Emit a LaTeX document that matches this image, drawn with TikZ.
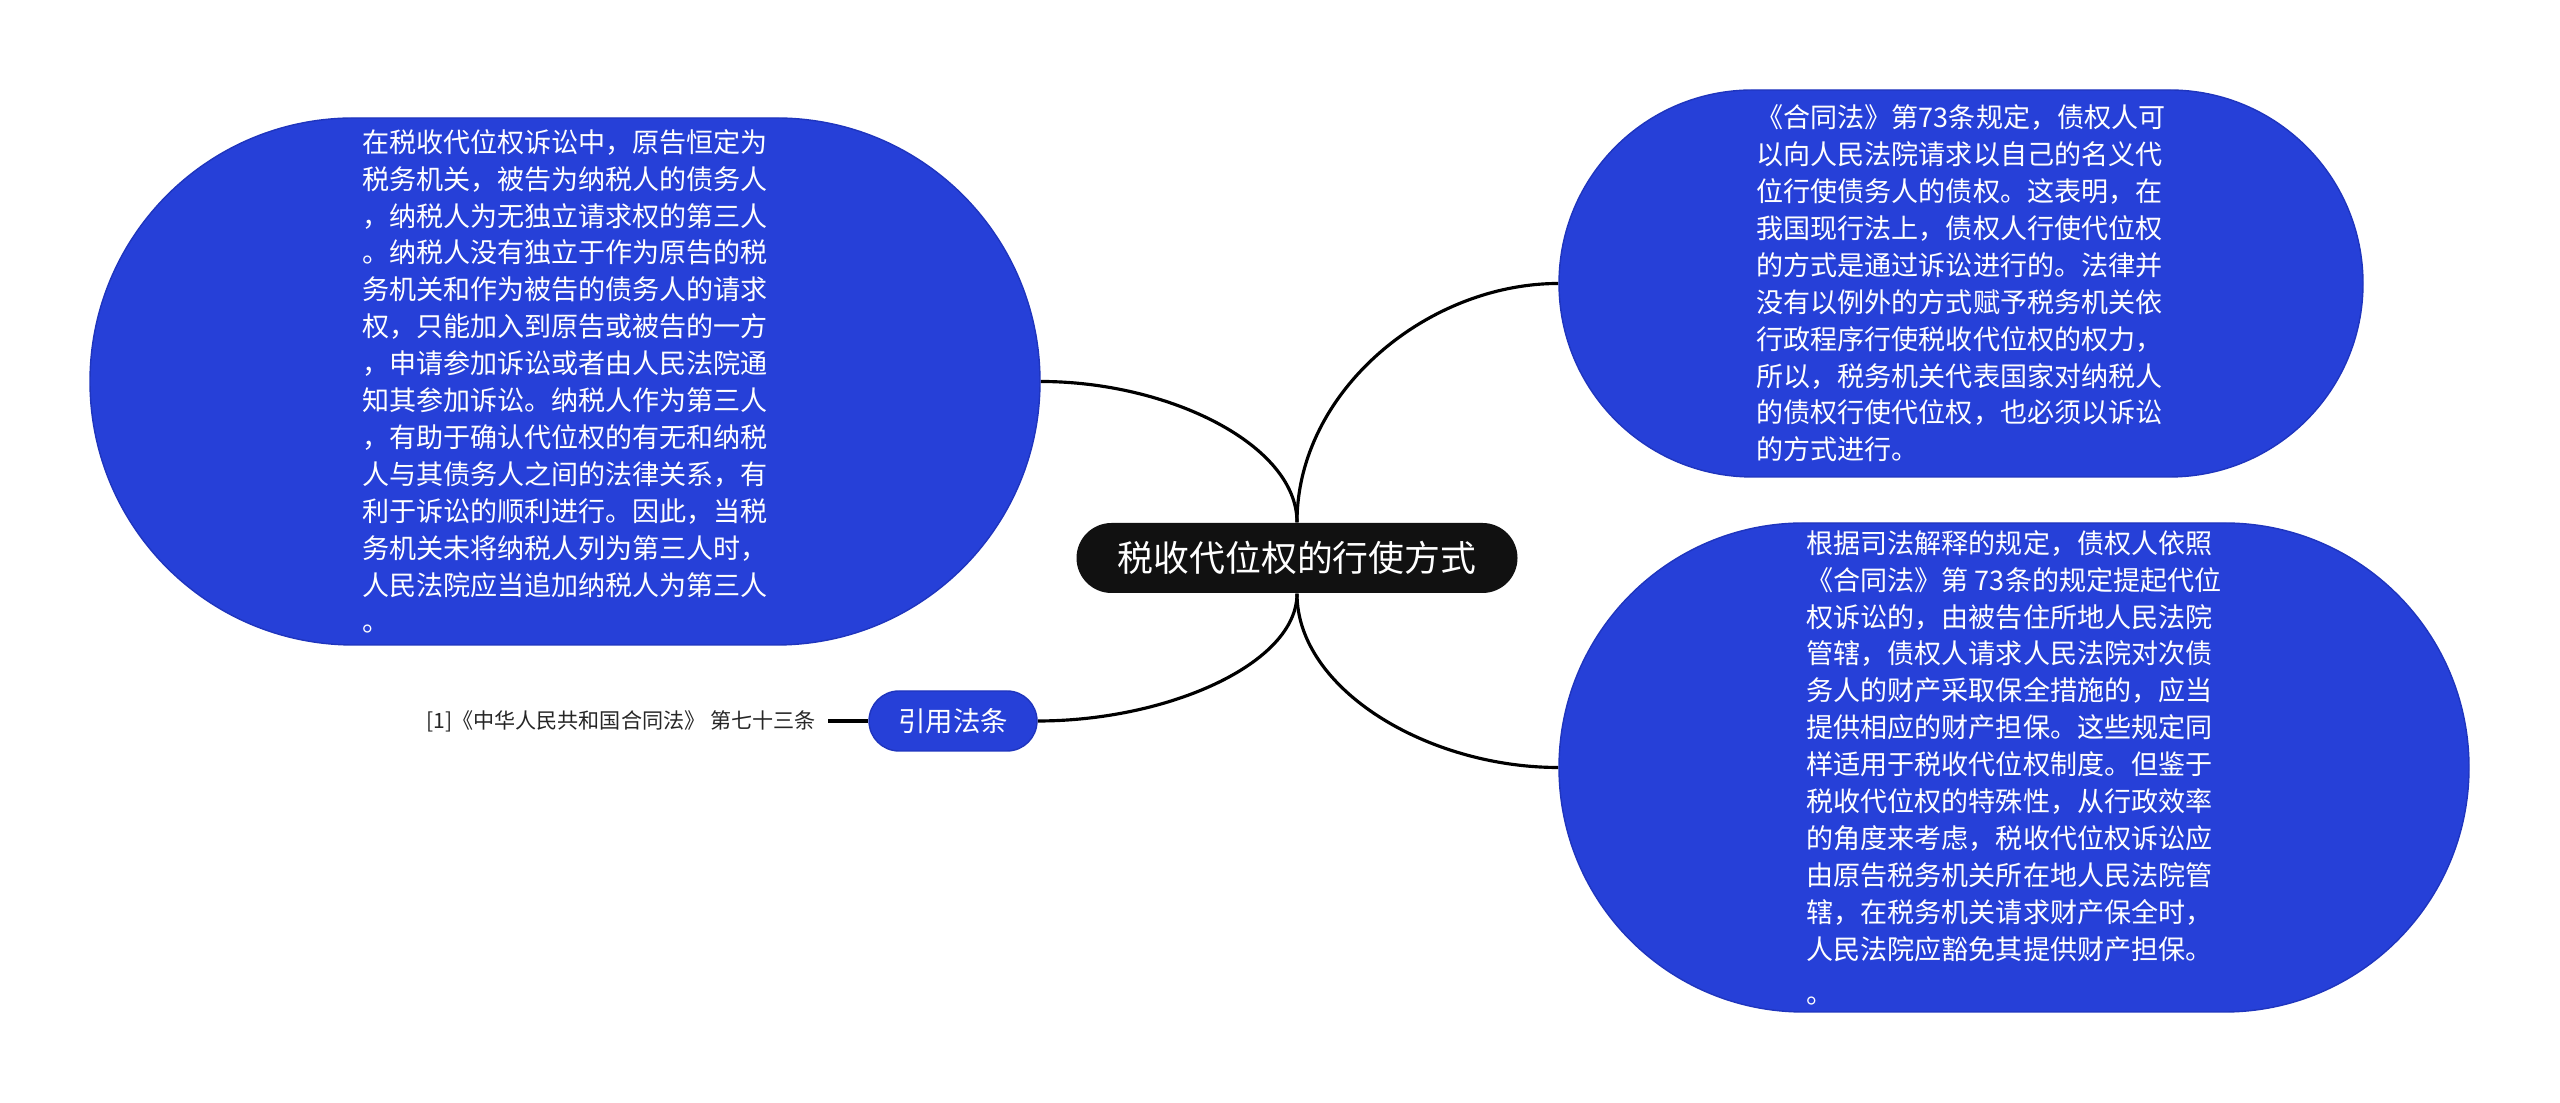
\documentclass[tikz,border=0pt]{standalone}
\usepackage{fontspec}
\newfontfamily\zhfont{Noto Sans CJK SC}
\usepackage{xcolor}
\definecolor{bubbleblue}{HTML}{2640D8}
\definecolor{bubbleedge}{HTML}{1F35BE}
\definecolor{hubblack}{HTML}{111111}
\usepackage{tikz}
\usetikzlibrary{positioning,calc,backgrounds}

\begin{document}
\begin{tikzpicture}[
  bubble/.style={
    draw=bubbleedge, line width=0.4pt,
    fill=bubbleblue, text=white, align=left, inner sep=0pt,
    font=\zhfont\fontsize{7.7pt}{10.5pt}\selectfont,
  },
  hubbox/.style={
    fill=hubblack, text=white, inner sep=0pt,
    minimum width=4.41cm, minimum height=0.70cm, rounded corners=0.35cm,
    font=\zhfont\fontsize{10.2pt}{12pt}\selectfont,
  },
  citebox/.style={
    draw=bubbleedge, line width=0.4pt, fill=bubbleblue, text=white, inner sep=0pt,
    minimum width=1.68cm, minimum height=0.60cm, rounded corners=0.30cm,
    font=\zhfont\fontsize{7.8pt}{9pt}\selectfont,
  },
  reftext/.style={text=black!85, inner sep=0pt,
    font=\zhfont\fontsize{6.0pt}{7pt}\selectfont},
  link/.style={draw=black, line width=0.9pt},
  reflink/.style={draw=black, line width=1.2pt},
]
\useasboundingbox (0,0) rectangle (25.6,11.03);

% === CENTER: main topic ===
\node[hubbox] (hub) at (12.97, 5.45) {税收代位权的行使方式};

% === LEFT: text bubble and cited law ===
\node[bubble, minimum width=9.5cm, minimum height=5.27cm, rounded corners=2.635cm]
  (lbub) at (5.65, 7.215) {%
在税收代位权诉讼中，原告恒定为\\
税务机关，被告为纳税人的债务人\\
，纳税人为无独立请求权的第三人\\
。纳税人没有独立于作为原告的税\\
务机关和作为被告的债务人的请求\\
权，只能加入到原告或被告的一方\\
，申请参加诉讼或者由人民法院通\\
知其参加诉讼。纳税人作为第三人\\
，有助于确认代位权的有无和纳税\\
人与其债务人之间的法律关系，有\\
利于诉讼的顺利进行。因此，当税\\
务机关未将纳税人列为第三人时，\\
人民法院应当追加纳税人为第三人\\
。};

\node[citebox] (cite) at (9.53, 3.82) {引用法条};
\node[reftext, left=0.52cm of cite] (law) {[1]《中华人民共和国合同法》 第七十三条};

% === RIGHT: two text bubbles ===
\node[bubble, minimum width=8.04cm, minimum height=3.87cm, rounded corners=1.935cm]
  (rtop) at (19.61, 8.195) {%
《合同法》第73条规定，债权人可\\
以向人民法院请求以自己的名义代\\
位行使债务人的债权。这表明，在\\
我国现行法上，债权人行使代位权\\
的方式是通过诉讼进行的。法律并\\
没有以例外的方式赋予税务机关依\\
行政程序行使税收代位权的权力，\\
所以，税务机关代表国家对纳税人\\
的债权行使代位权，也必须以诉讼\\
的方式进行。};

\node[bubble, minimum width=9.1cm, minimum height=4.89cm, rounded corners=2.445cm]
  (rbot) at (20.14, 3.355) {%
根据司法解释的规定，债权人依照\\
《合同法》第 73条的规定提起代位\\
权诉讼的，由被告住所地人民法院\\
管辖，债权人请求人民法院对次债\\
务人的财产采取保全措施的，应当\\
提供相应的财产担保。这些规定同\\
样适用于税收代位权制度。但鉴于\\
税收代位权的特殊性，从行政效率\\
的角度来考虑，税收代位权诉讼应\\
由原告税务机关所在地人民法院管\\
辖，在税务机关请求财产保全时，\\
人民法院应豁免其提供财产担保。\\[2pt]
。};

% === CONNECTORS ===
\begin{scope}[on background layer]
  \foreach \from/\to in {north/lbub.east, north/rtop.west, south/cite.east, south/rbot.west} {
    \coordinate (k) at (hub.\from |- \to);
    \draw[link] (hub.\from)
      .. controls ($(hub.\from)!0.55!(k)$) and ($(\to)!0.5!(k)$) .. (\to);
  }
\end{scope}
\draw[reflink] (law.east) ++(0.12,0) -- (cite.west);

\end{tikzpicture}
\end{document}
